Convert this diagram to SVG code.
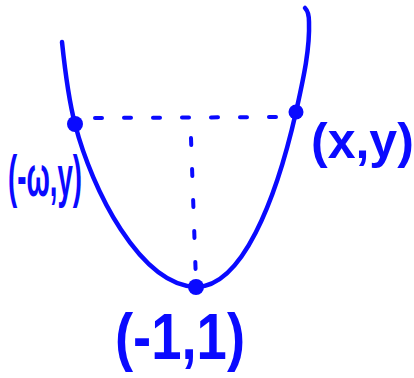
<svg xmlns="http://www.w3.org/2000/svg" width="414" height="378" viewBox="0 0 414 378">
<style>
.curve{fill:none;stroke:#0a0aff;stroke-width:4.5;stroke-linecap:round;stroke-linejoin:round}
.dash{fill:none;stroke:#0a0aff;stroke-width:4;stroke-linecap:round}
.dot{fill:#0a0aff}
.lbl{font-family:"Liberation Sans",Arial,sans-serif;fill:#0a0aff;font-weight:bold}
</style>
<rect width="414" height="378" fill="#ffffff"/>
<g id="connectors">
<path class="curve" d="M62,42 C66,80 70,105 75,124 C92,190 140,285 196,287 C242,287 276,200 296,112 C303,80 310,50 309,22 Q309,12 305,8"/>
<path class="dash" d="M95,118 L290,117" stroke-dasharray="7 22"/>
<path class="dash" d="M191,138 L196,282" stroke-dasharray="7 24"/>
</g>
<g id="node-left">
<circle class="dot" cx="75" cy="124" r="8"/>
<text class="lbl" x="8" y="196" font-size="58" textLength="74" lengthAdjust="spacingAndGlyphs">(-ω,y)</text>
</g>
<g id="node-right">
<circle class="dot" cx="296" cy="112" r="7.5"/>
<text class="lbl" x="311" y="158" font-size="50">(x,y)</text>
</g>
<g id="node-vertex">
<circle class="dot" cx="196" cy="287" r="8"/>
<text class="lbl" x="115" y="359" font-size="64" textLength="130" lengthAdjust="spacingAndGlyphs">(-1,1)</text>
</g>
</svg>
